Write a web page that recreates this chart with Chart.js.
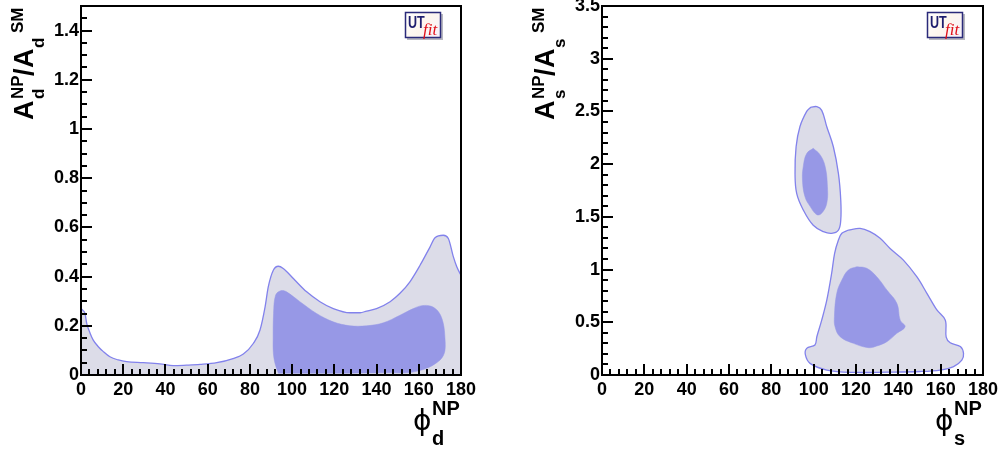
<!DOCTYPE html>
<html><head><meta charset="utf-8">
<script src="https://cdn.jsdelivr.net/npm/chart.js@4.4.1/dist/chart.umd.min.js"></script>
<style>
html,body{margin:0;padding:0;background:#fff;width:999px;height:450px;overflow:hidden}
.box{position:absolute;top:0;height:450px}
#b1{left:0;width:500px}
#b2{left:521px;width:478px}
</style></head><body>
<div class="box" id="b1"><canvas id="c1"></canvas></div>
<div class="box" id="b2"><canvas id="c2"></canvas></div>
<script>
// ---------- tick values / labels ----------
const phiTicks = [0, 20, 40, 60, 80, 100, 120, 140, 160, 180];
const phiTickLabels = ['0', '20', '40', '60', '80', '100', '120', '140', '160', '180'];
const adTicks = [0, 0.2, 0.4, 0.6, 0.8, 1, 1.2, 1.4];
const adTickLabels = ['0', '0.2', '0.4', '0.6', '0.8', '1', '1.2', '1.4'];
const asTicks = [0, 0.5, 1, 1.5, 2, 2.5, 3, 3.5];
const asTickLabels = ['0', '0.5', '1', '1.5', '2', '2.5', '3', '3.5'];

// ---------- left panel: phi_d vs A_d ----------
// outer (95%) region: upper boundary, filled down to zero
const dOuterPhi = [0, 1, 1.9, 2.7, 4.3, 5.8, 8.2, 10.6, 13.7, 17.7, 21.6, 29.5, 37.4, 43.7, 50, 56.4, 64.3, 72, 76.9, 81.6, 84.8, 87.2, 88.7, 91.1, 93.5, 95.8, 100.6, 106.9, 113.2, 119.5, 127.4, 132.2, 135.3, 140, 146.4, 151.1, 155.8, 160.6, 165.3, 167.7, 171.6, 174, 176.4, 178, 180];
const dOuterA   = [0.27, 0.262, 0.25, 0.21, 0.17, 0.142, 0.115, 0.095, 0.074, 0.061, 0.054, 0.05, 0.045, 0.038, 0.04, 0.043, 0.05, 0.067, 0.085, 0.128, 0.183, 0.277, 0.358, 0.426, 0.442, 0.433, 0.392, 0.338, 0.298, 0.27, 0.253, 0.253, 0.26, 0.27, 0.298, 0.332, 0.379, 0.446, 0.52, 0.558, 0.568, 0.555, 0.48, 0.44, 0.405];
// inner (68%) region: closed contour
const dInnerPhi = [93.5, 91.9, 91.1, 91.0, 91.2, 92.2, 94.8, 97.4, 103.7, 111.6, 119.5, 127.4, 135.3, 143.2, 151.1, 157.4, 161.5, 166.0, 169.5, 171.6, 172.4, 172.4, 171.0, 168.5, 163.7, 155.8, 145, 135, 119.5, 100.6];
const dInnerA   = [0.007, 0.047, 0.09, 0.15, 0.25, 0.325, 0.343, 0.338, 0.298, 0.25, 0.216, 0.2, 0.2, 0.212, 0.243, 0.27, 0.282, 0.279, 0.255, 0.21, 0.15, 0.1, 0.07, 0.05, 0.027, 0.01, 0.009, 0.008, 0.007, 0.007];

// ---------- right panel: phi_s vs A_s ----------
const sUpOuterPhi = [98.6, 101.5, 103.8, 106.2, 109.3, 111.7, 112.8, 112.8, 111.7, 108.5, 104.6, 99.8, 95.1, 92.0, 91.2, 91.7, 93.5, 96.7];
const sUpOuterA   = [2.54, 2.545, 2.51, 2.355, 2.165, 1.91, 1.66, 1.47, 1.375, 1.344, 1.36, 1.42, 1.565, 1.72, 1.91, 2.165, 2.355, 2.5];
const sUpInnerPhi = [99.8, 103.0, 105.4, 106.5, 106.2, 103.8, 101.5, 98.3, 95.9, 94.7, 95.1, 96.7];
const sUpInnerA   = [2.15, 2.09, 1.98, 1.79, 1.63, 1.535, 1.52, 1.6, 1.69, 1.85, 1.98, 2.1];
const sLoOuterPhi = [116.4, 121.9, 126.6, 131.4, 136.1, 142.4, 148.8, 153.5, 158.2, 162.2, 162.6, 164.5, 169.3, 170.8, 170.0, 166.1, 159.8, 150.3, 134.5, 118.8, 106.2, 98.3, 96.1, 96.7, 100.6, 101.5, 103.8, 106.2, 108.5, 109.9, 111.7, 113.3];
const sLoOuterA   = [1.375, 1.39, 1.36, 1.297, 1.2, 1.09, 0.93, 0.775, 0.617, 0.52, 0.36, 0.306, 0.27, 0.205, 0.142, 0.08, 0.047, 0.033, 0.027, 0.025, 0.047, 0.11, 0.19, 0.253, 0.285, 0.363, 0.52, 0.71, 0.965, 1.154, 1.28, 1.344];
const sLoInnerPhi = [120.4, 125.1, 129.8, 134.6, 139.3, 140.9, 143.2, 139.3, 134.6, 129.8, 125.9, 118.8, 112.5, 110.1, 109.8, 110.9, 113.3, 116.4];
const sLoInnerA   = [1.027, 1.012, 0.932, 0.806, 0.68, 0.52, 0.458, 0.395, 0.316, 0.275, 0.259, 0.3, 0.363, 0.458, 0.553, 0.775, 0.9, 0.996];

// ---------- styling ----------
const OUTER_FILL = '#dcdce8';
const OUTER_LINE = '#8282ec';
const INNER_FILL = '#9798e6';
const FONT = '"Liberation Sans", Arial, Helvetica, sans-serif';

function pts(xs, ys, close) {
  const p = xs.map((x, i) => ({x: x, y: ys[i]}));
  if (close) p.push({x: xs[0], y: ys[0]});
  return p;
}

const decor = {
  id: 'decor',
  afterDatasetsDraw(chart, args, o) {
    const {ctx, chartArea: a, scales: {x, y}} = chart;
    ctx.save();
    ctx.strokeStyle = '#000';
    ctx.lineWidth = 2;
    ctx.beginPath();
    const ny = Math.round((y.max - y.min) / o.yMinor);
    for (let i = 0; i <= ny; i++) {
      const v = y.min + i * o.yMinor;
      const r = v / o.yMajor;
      const major = Math.abs(r - Math.round(r)) < 1e-6;
      const py = Math.round(y.getPixelForValue(v));
      ctx.moveTo(a.left, py);
      ctx.lineTo(a.left + (major ? 11 : 6), py);
    }
    const nx = Math.round((x.max - x.min) / o.xMinor);
    for (let i = 0; i <= nx; i++) {
      const v = x.min + i * o.xMinor;
      const r = v / o.xMajor;
      const major = Math.abs(r - Math.round(r)) < 1e-6;
      const px = Math.round(x.getPixelForValue(v));
      ctx.moveTo(px, a.bottom);
      ctx.lineTo(px, a.bottom - (major ? 11 : 6));
    }
    ctx.stroke();
    ctx.strokeRect(Math.round(a.left), Math.round(a.top), Math.round(a.right - a.left), Math.round(a.bottom - a.top));
    ctx.restore();
  },
  afterDraw(chart, args, o) {
    const {ctx, chartArea: a} = chart;
    const mainF = 'bold 27px ' + FONT;
    const scrF = 'bold 17px ' + FONT;
    ctx.save();
    ctx.fillStyle = '#000';
    ctx.textBaseline = 'alphabetic';
    ctx.textAlign = 'left';
    // ---- y title (rotated) ----
    ctx.save();
    ctx.translate(a.left - 48, 0);
    ctx.rotate(-Math.PI / 2);
    const yr = [
      ['A', mainF, 120, 0], ['NP', scrF, 99, -10], [o.sub, scrF, 99, 11],
      ['/', mainF, 76, 0], ['A', mainF, 68, 0], [o.sub, scrF, 48, 11], ['SM', scrF, 33, -10]
    ];
    for (const [t, f, s, dy] of yr) { ctx.font = f; ctx.fillText(t, -(a.top - 6 + s), dy); }
    ctx.restore();
    // ---- x title ----
    ctx.font = '28px "DejaVu Sans", ' + FONT;
    ctx.fillText('\u03D5', a.right - 48, 430);
    ctx.font = 'bold 20px ' + FONT;
    ctx.fillText('NP', a.right - 29, 415);
    ctx.fillText(o.sub, a.right - 29, 445);
    // ---- UTfit logo ----
    const bx = Math.round(a.right - 56), by = Math.round(a.top + 6), bw = 36, bh = 26;
    ctx.fillStyle = '#b8b8c0';
    ctx.fillRect(bx + 2, by + 2, bw, bh);
    const g = ctx.createLinearGradient(bx, by, bx + bw, by + bh);
    g.addColorStop(0, '#ffffff');
    g.addColorStop(0.5, '#fdf6ee');
    g.addColorStop(1, '#f6f0fb');
    ctx.fillStyle = g;
    ctx.fillRect(bx, by, bw, bh);
    ctx.strokeStyle = '#2a2a7a';
    ctx.lineWidth = 1.5;
    ctx.strokeRect(bx + 0.5, by + 0.5, bw - 1, bh - 1);
    ctx.save();
    ctx.translate(bx + 3, by + 16);
    ctx.scale(0.74, 1);
    ctx.fillStyle = '#1e1e6e';
    ctx.font = 'bold 17px ' + FONT;
    ctx.fillText('UT', 0, 0);
    ctx.restore();
    ctx.fillStyle = '#e0101a';
    ctx.font = 'italic 17px "Liberation Serif", "Times New Roman", serif';
    ctx.fillText('fit', bx + 18, by + 23);
    ctx.restore();
  }
};

function makeChart(id, datasets, yMax, yTicks, yLabels, padRight, o) {
  const tickFont = {family: FONT, size: 18, weight: 'bold'};
  return new Chart(document.getElementById(id), {
    type: 'line',
    data: {datasets: datasets},
    plugins: [decor],
    options: {
      responsive: true,
      maintainAspectRatio: false,
      animation: false,
      devicePixelRatio: 1,
      layout: {padding: {left: 0, right: padRight, top: 6, bottom: 0}},
      elements: {point: {radius: 0, hoverRadius: 0}},
      plugins: {legend: {display: false}, tooltip: {enabled: false}, decor: o},
      events: [],
      scales: {
        x: {
          type: 'linear', min: 0, max: 180,
          grid: {display: false, drawTicks: false},
          border: {display: false},
          ticks: {font: tickFont, color: '#000', padding: 4, maxRotation: 0, autoSkip: false,
                  callback: (v, i) => phiTickLabels[i]},
          afterBuildTicks: s => { s.ticks = phiTicks.map(v => ({value: v})); },
          afterFit: s => { s.height = 75; s.paddingLeft = 0; s.paddingRight = 0; }
        },
        y: {
          type: 'linear', min: 0, max: yMax,
          grid: {display: false, drawTicks: false},
          border: {display: false},
          ticks: {font: tickFont, color: '#000', padding: 2, autoSkip: false,
                  callback: (v, i) => yLabels[i]},
          afterBuildTicks: s => { s.ticks = yTicks.map(v => ({value: v})); },
          afterFit: s => { s.width = 81; s.paddingTop = 0; s.paddingBottom = 0; }
        }
      }
    }
  });
}

makeChart('c1', [
  {data: pts(dInnerPhi, dInnerA, true), backgroundColor: INNER_FILL, borderColor: INNER_FILL, borderWidth: 0.5, fill: 'shape', tension: 0.35},
  {data: pts(dOuterPhi, dOuterA, false), backgroundColor: OUTER_FILL, borderColor: OUTER_LINE, borderWidth: 1.3, fill: 'origin', cubicInterpolationMode: 'monotone'}
], 1.5, adTicks, adTickLabels, 39, {sub: 'd', xMinor: 4, xMajor: 20, yMinor: 0.05, yMajor: 0.2});

makeChart('c2', [
  {data: pts(sUpInnerPhi, sUpInnerA, true), backgroundColor: INNER_FILL, borderColor: INNER_FILL, borderWidth: 0.5, fill: 'shape', tension: 0.4},
  {data: pts(sLoInnerPhi, sLoInnerA, true), backgroundColor: INNER_FILL, borderColor: INNER_FILL, borderWidth: 0.5, fill: 'shape', tension: 0.4},
  {data: pts(sUpOuterPhi, sUpOuterA, true), backgroundColor: OUTER_FILL, borderColor: OUTER_LINE, borderWidth: 1.3, fill: 'shape', tension: 0.4},
  {data: pts(sLoOuterPhi, sLoOuterA, true), backgroundColor: OUTER_FILL, borderColor: OUTER_LINE, borderWidth: 1.3, fill: 'shape', tension: 0.35}
], 3.5, asTicks, asTickLabels, 16, {sub: 's', xMinor: 4, xMajor: 20, yMinor: 0.1, yMajor: 0.5});
</script>
</body></html>
